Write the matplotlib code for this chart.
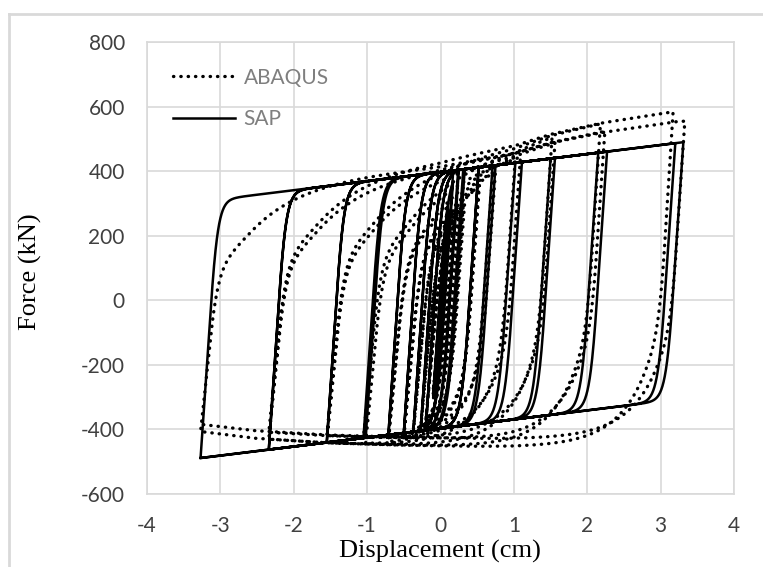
import numpy as np
import matplotlib
matplotlib.use("Agg")
import matplotlib.pyplot as plt
from matplotlib.lines import Line2D

# displacement peaks (cm), two cycles per level
sap_pos = [0.10, 0.10, 0.17, 0.17, 0.24, 0.25, 0.31, 0.33, 0.52, 0.52,
           0.71, 0.75, 1.02, 1.11, 1.50, 1.56, 2.15, 2.27, 3.20, 3.31]
sap_neg = [-0.10, -0.10, -0.20, -0.20, -0.27, -0.27, -0.37, -0.37, -0.50, -0.50,
           -0.71, -0.71, -1.02, -1.05, -1.55, -1.55, -2.34, -2.34, -3.27, -3.27]
abq_pos = [0.10, 0.10, 0.17, 0.17, 0.24, 0.25, 0.31, 0.33, 0.52, 0.53,
           0.71, 0.75, 1.02, 1.09, 1.52, 1.56, 2.18, 2.24, 3.17, 3.33]
abq_neg = sap_neg

# force envelopes (kN) of the fully yielded branches
sap_env_x = [-4.0, 4.0]
sap_up = [285, 509]
sap_lo = [-509, -285]
abq_env_x = [-3.5, -2.5, -1.5, -0.5, 0.0, 0.5, 1.0, 1.5, 2.2, 3.2, 3.5]
abq_up = [385, 398, 412, 430, 442, 462, 482, 516, 550, 585, 590]
abq_lo = [-400, -428, -442, -449, -451, -453, -454, -453, -451, -447, -445]
# strength ratio of the 2nd cycle at each level (ABAQUS)
abq_soft = [1.0, 0.99, 1.0, 0.99, 1.0, 0.99, 1.0, 0.98, 1.0, 0.98,
            1.0, 0.97, 1.0, 0.96, 1.0, 0.95, 1.0, 0.95, 1.0, 0.945]

# Wen smooth-plasticity parts:
# (share, yield disp loading +, yield disp loading -, exponent, beta, gamma)
sap_parts = [(1.0, 0.12, 0.12, 2.0, 0.5, 0.5)]
abq_parts = [(0.6, 0.12, 0.10, 1.5, 0.5, 0.5), (0.4, 0.7, 0.42, 1.0, 0.5, 0.5)]


def wen(pos, neg, ex, up, lo, parts, soft=None):
    peaks = [0.0]
    for p, q in zip(pos, neg):
        peaks += [p, q]
    z = [0.0] * len(parts)
    xs, fs = [], []
    su, sl = 1.0, 1.0
    for k in range(1, len(peaks)):
        cyc = (k - 1) // 2
        if soft is not None:
            if k % 2 == 1:
                su = soft[cyc]
            else:
                sl = soft[cyc]
        a, b = peaks[k - 1], peaks[k]
        npts = max(int(abs(b - a) / 0.002), 2)
        dx = (b - a) / npts
        x = a
        for i in range(npts + 1):
            if i > 0:
                x += dx
                for j, (w, uyp, uym, n, beta, gamma) in enumerate(parts):
                    uy = uyp if dx > 0 else uym
                    s = np.sign(dx * z[j])
                    zz = z[j] + dx / uy * (1 - abs(z[j]) ** n * (beta * s + gamma))
                    z[j] = min(max(zz, -1.0), 1.0)
            frac = sum(p[0] * (1 + z[j]) / 2 for j, p in enumerate(parts))
            fu = np.interp(x, ex, up) * su
            fl = np.interp(x, ex, lo) * sl
            xs.append(x)
            fs.append(fl + (fu - fl) * frac)
    return np.array(xs), np.array(fs)


sx, sf = wen(sap_pos, sap_neg, sap_env_x, sap_up, sap_lo, sap_parts)
qx, qf = wen(abq_pos, abq_neg, abq_env_x, abq_up, abq_lo, abq_parts, abq_soft)

plt.rcParams['font.family'] = ['Lato', 'DejaVu Sans']
plt.rcParams['axes.unicode_minus'] = False
fig = plt.figure(figsize=(7.63, 5.67), dpi=100)
ax = fig.add_axes([147 / 763, 1 - 494 / 567, (734 - 147) / 763, (494 - 42) / 567])

ax.plot(qx, qf, color='black', lw=2.4, linestyle=(0, (0.1, 2.1)),
        dash_capstyle='round', label='ABAQUS')
ax.plot(sx, sf, color='black', lw=1.8, label='SAP')

ax.set_xlim(-4, 4)
ax.set_ylim(-600, 800)
ax.set_xticks(range(-4, 5))
ax.set_yticks(range(-600, 801, 200))
ax.grid(True, color='#d9d9d9', lw=1.2)
ax.set_axisbelow(True)
for sp in ax.spines.values():
    sp.set_color('#d9d9d9')
    sp.set_linewidth(1.2)
ax.tick_params(length=0, labelsize=15, labelcolor='#404040', pad=16)

leg = ax.legend(loc='upper left', bbox_to_anchor=(0.012, 0.985), frameon=False,
                fontsize=15, labelcolor='#7f7f7f', handlelength=3.0,
                labelspacing=1.05, handletextpad=0.4)

fig.text(440 / 763, 1 - 551 / 567, 'Displacement (cm)', family='Liberation Serif',
         fontsize=19, ha='center', va='center')
fig.text(30 / 763, 1 - 272 / 567, 'Force (kN)', family='Liberation Serif',
         fontsize=19, ha='center', va='center', rotation=90)

fig.add_artist(Line2D([9 / 763, 9 / 763], [-0.1, 1 - 14 / 567], color='#d9d9d9', lw=2,
                      transform=fig.transFigure))
fig.add_artist(Line2D([9 / 763, 1.1], [1 - 14 / 567, 1 - 14 / 567], color='#d9d9d9', lw=2,
                      transform=fig.transFigure))

fig.savefig('out.png', dpi=100)
